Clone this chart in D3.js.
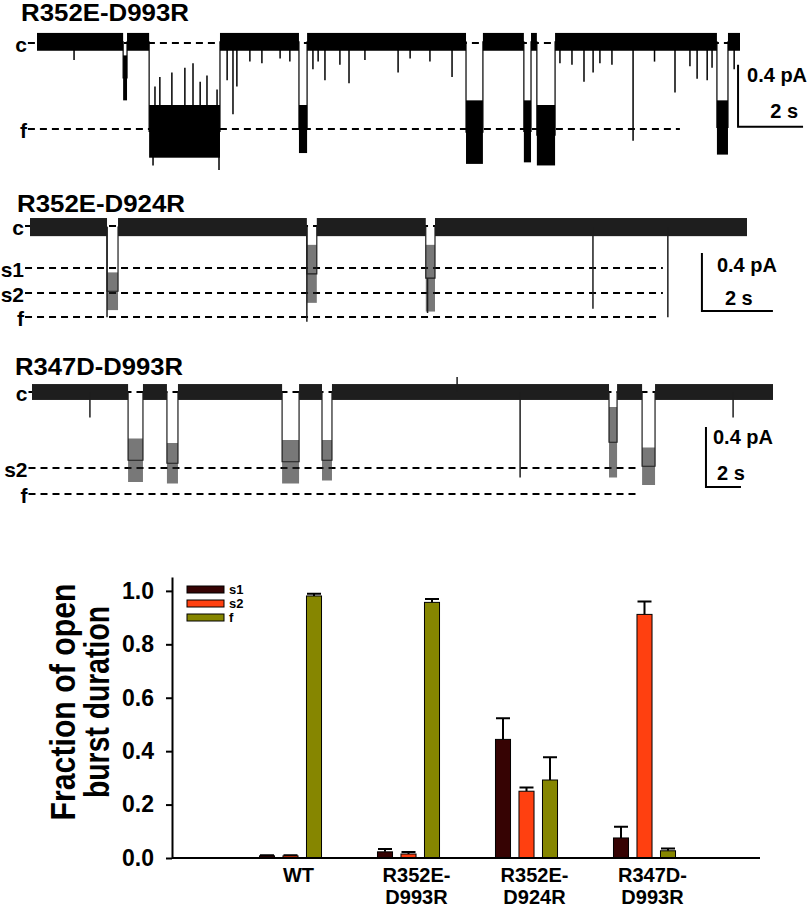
<!DOCTYPE html>
<html>
<head>
<meta charset="utf-8">
<script src="https://cdn.jsdelivr.net/npm/d3@7"></script>
<style>
body { margin: 0; background: #fff; }
text { font-family: Arial, "Liberation Sans", sans-serif; font-weight: bold; fill: #000; }
</style>
</head>
<body>
<div id="figure"></div>
<script>
// ---- single-channel records: dwells are [start s, end s, min pA, max pA]
var trace1Dwells = [
    [0, 2.65, -0.05, 0.065], [2.65, 2.77, -0.37, -0.08], [2.77, 3.45, -0.05, 0.065],
    [3.45, 5.63, -0.74, -0.40], [5.63, 8.06, -0.05, 0.065], [8.06, 8.31, -0.71, -0.40],
    [8.31, 13.2, -0.05, 0.065], [13.2, 13.72, -0.78, -0.37], [13.72, 14.98, -0.05, 0.065],
    [14.98, 15.2, -0.77, -0.37], [15.2, 15.38, -0.05, 0.065], [15.38, 15.94, -0.79, -0.40],
    [15.94, 20.92, -0.05, 0.065], [20.92, 21.26, -0.72, -0.37], [21.26, 21.63, -0.05, 0.065]
];
// brief excursions: [time s, peak pA]
var trace1Spikes = [
    [1.14, -0.11], [3.57, -0.79], [3.63, -0.28], [3.78, -0.22], [4.15, -0.19], [4.55, -0.16],
    [4.8, -0.13], [5.02, -0.25], [5.23, -0.21], [5.54, -0.30], [5.6, -0.82],
    [5.85, -0.24], [6.03, -0.46], [6.15, -0.28], [6.55, -0.12], [6.92, -0.13], [7.48, -0.1],
    [7.78, -0.12], [8.49, -0.17], [8.65, -0.12], [8.86, -0.24], [9.32, -0.14], [9.6, -0.26],
    [10.09, -0.11], [11.11, -0.19], [11.48, -0.1], [12.09, -0.12], [12.77, -0.22],
    [16.09, -0.13], [16.46, -0.14], [16.83, -0.25], [17.11, -0.19], [17.32, -0.13],
    [17.69, -0.14], [18.34, -0.63], [19.0, -0.12], [19.63, -0.32], [20.09, -0.15],
    [20.31, -0.23], [20.62, -0.24], [20.77, -0.16], [21.45, -0.17]
];
var trace1Levels = [["c", 0, 21.63], ["f", -0.555, 19.78]];

var trace2Dwells = [
    [0, 2.17, -0.07, 0.055], [2.17, 2.48, -0.58, -0.32], [2.48, 7.80, -0.07, 0.055],
    [7.80, 8.08, -0.53, -0.13], [8.08, 11.15, -0.07, 0.055], [11.15, 11.41, -0.59, -0.13],
    [11.41, 20.2, -0.07, 0.055]
];
var trace2Spikes = [[2.17, -0.63], [7.80, -0.66], [11.2, -0.6], [15.86, -0.57], [17.97, -0.63]];
var trace2Levels = [["c", 0, 20.2], ["s1", -0.29, 17.83], ["s2", -0.462, 17.83], ["f", -0.628, 17.75]];

var trace3Dwells = [
    [0, 5.49, -0.053, 0.053], [5.49, 6.34, -0.6, -0.31], [6.34, 7.71, -0.053, 0.053],
    [7.71, 8.34, -0.61, -0.34], [8.34, 14.29, -0.053, 0.053], [14.29, 15.26, -0.61, -0.32],
    [15.26, 16.57, -0.053, 0.053], [16.57, 17.14, -0.59, -0.32], [17.14, 32.97, -0.053, 0.053],
    [32.97, 33.43, -0.57, -0.1], [33.43, 34.86, -0.053, 0.053], [34.86, 35.6, -0.62, -0.37],
    [35.6, 42.34, -0.053, 0.053]
];
var trace3Spikes = [[3.31, -0.17], [24.29, 0.1], [27.89, -0.57], [40.06, -0.17]];
var trace3Levels = [["c", 0, 42.34], ["s2", -0.507, 34.63], ["f", -0.68, 34.57]];

// ---- bar chart values
var groups = ["WT", "R352E-D993R", "R352E-D924R", "R347D-D993R"];
var groupLabels = [["WT"], ["R352E-", "D993R"], ["R352E-", "D924R"], ["R347D-", "D993R"]];
var states = ["s1", "s2", "f"];
var stateColors = ["#360303", "#ff4010", "#868600"];
var s1Mean = [0.008, 0.023, 0.444, 0.075];
var s1Err = [0.002, 0.011, 0.079, 0.042];
var s2Mean = [0.008, 0.015, 0.250, 0.912];
var s2Err = [0.002, 0.007, 0.014, 0.048];
var fMean = [0.981, 0.957, 0.292, 0.027];
var fErr = [0.008, 0.013, 0.085, 0.009];
var yTicks = [0, 0.2, 0.4, 0.6, 0.8, 1.0];

var svg = d3.select("#figure")
    .append("svg")
    .attr("width", 812)
    .attr("height", 909);

var traces = [
    { title: "R352E-D993R", titleX: 21, titleY: 21, dwells: trace1Dwells, spikes: trace1Spikes,
      levels: trace1Levels, tEnd: 21.63, x0: 37, x1: 740, y0: 43, pxPerPa: 155, tStart: -0.28,
      color: "#000", openOpacity: 1, bar: [21.57, -0.54], pALabel: [9, -45], sLabel: [60, -9, "end"] },
    { title: "R352E-D924R", titleX: 17, titleY: 212, dwells: trace2Dwells, spikes: trace2Spikes,
      levels: trace2Levels, tEnd: 20.2, x0: 30, x1: 747, y0: 226, pxPerPa: 145, tStart: -0.14,
      color: "#1e1e1e", openOpacity: 0.6, bar: [18.93, -0.586], pALabel: [15, -39], sLabel: [23, -6, "start"] },
    { title: "R347D-D993R", titleX: 15, titleY: 375, dwells: trace3Dwells, spikes: trace3Spikes,
      levels: trace3Levels, tEnd: 42.34, x0: 32, x1: 773, y0: 392, pxPerPa: 150, tStart: -0.2,
      color: "#1e1e1e", openOpacity: 0.6, bar: [38.51, -0.633], pALabel: [7, -43], sLabel: [11, -7, "start"] }
];

traces.forEach(drawTrace);
drawBars();

function levelAt(dwells, t) {
    var d = dwells.find(function(d) { return t >= d[0] && t <= d[1]; }) || dwells[0];
    return (d[2] + d[3]) / 2;
}

function drawTrace(cfg) {
    var g = svg.append("g");
    var x = d3.scaleLinear().domain([0, cfg.tEnd]).range([cfg.x0, cfg.x1]);
    var y = d3.scaleLinear().domain([0, -1]).range([cfg.y0, cfg.y0 + cfg.pxPerPa]);

    g.append("text")
        .attr("x", cfg.titleX)
        .attr("y", cfg.titleY)
        .attr("font-size", 23)
        .attr("textLength", 168)
        .attr("lengthAdjust", "spacingAndGlyphs")
        .text(cfg.title);

    // dashed reference levels and their names
    g.selectAll(".level")
        .data(cfg.levels)
        .enter().append("line")
        .attr("x1", x(cfg.tStart))
        .attr("x2", function(d) { return x(d[2]); })
        .attr("y1", function(d) { return y(d[1]); })
        .attr("y2", function(d) { return y(d[1]); })
        .attr("stroke", "#000")
        .attr("stroke-width", 2)
        .attr("stroke-dasharray", "7,5");

    g.selectAll(".level-label")
        .data(cfg.levels)
        .enter().append("text")
        .attr("x", x(cfg.tStart) - 1)
        .attr("y", function(d) { return y(d[1]) + 9; })
        .attr("text-anchor", "end")
        .attr("font-size", 21)
        .text(function(d) { return d[0]; });

    // transitions between dwells
    var pts = [];
    cfg.dwells.forEach(function(d) {
        var m = (d[2] + d[3]) / 2;
        pts.push([d[0], m], [d[1], m]);
    });
    g.append("path")
        .attr("d", d3.line().x(function(p) { return x(p[0]); }).y(function(p) { return y(p[1]); })(pts))
        .attr("fill", "none")
        .attr("stroke", cfg.color)
        .attr("stroke-width", 1.2);

    // noise envelope of each dwell
    g.selectAll(".band")
        .data(cfg.dwells)
        .enter().append("rect")
        .attr("x", function(d) { return x(d[0]); })
        .attr("width", function(d) { return x(d[1]) - x(d[0]); })
        .attr("y", function(d) { return y(d[3]); })
        .attr("height", function(d) { return y(d[2]) - y(d[3]); })
        .attr("fill", cfg.color)
        .attr("opacity", function(d) { return d[3] > 0 ? 1 : cfg.openOpacity; });

    g.selectAll(".spike")
        .data(cfg.spikes)
        .enter().append("line")
        .attr("x1", function(d) { return x(d[0]); })
        .attr("x2", function(d) { return x(d[0]); })
        .attr("y1", function(d) { return y(levelAt(cfg.dwells, d[0])); })
        .attr("y2", function(d) { return y(d[1]); })
        .attr("stroke", cfg.color)
        .attr("stroke-width", 1.5);

    // scale bar: 0.4 pA by 2 s
    var bx = x(cfg.bar[0]), by = y(cfg.bar[1]);
    g.append("path")
        .attr("d", "M" + bx + "," + y(cfg.bar[1] + 0.4) + "L" + bx + "," + by + "L" + x(cfg.bar[0] + 2) + "," + by)
        .attr("fill", "none")
        .attr("stroke", "#000")
        .attr("stroke-width", 2);

    g.append("text")
        .attr("x", bx + cfg.pALabel[0])
        .attr("y", by + cfg.pALabel[1])
        .attr("font-size", 20)
        .text("0.4 pA");

    g.append("text")
        .attr("x", bx + cfg.sLabel[0])
        .attr("y", by + cfg.sLabel[1])
        .attr("text-anchor", cfg.sLabel[2])
        .attr("font-size", 20)
        .text("2 s");
}

function drawBars() {
    var yScale = d3.scaleLinear().domain([0, 1.052]).range([858, 577]);
    var xGroup = d3.scaleBand().domain(groups).range([231.5, 703.5]);
    var xState = d3.scaleBand().domain(states).range([23.75, 94.25])
        .paddingInner(0.36).paddingOuter(0.18);

    var means = [s1Mean, s2Mean, fMean];
    var errs = [s1Err, s2Err, fErr];
    var rows = [];
    groups.forEach(function(grp, gi) {
        states.forEach(function(st, si) {
            rows.push({ group: grp, state: st, color: stateColors[si],
                        mean: means[si][gi], err: errs[si][gi] });
        });
    });

    var g = svg.append("g");

    // error bars (upper only)
    g.selectAll(".err")
        .data(rows)
        .enter().append("path")
        .attr("d", function(d) {
            var cx = xGroup(d.group) + xState(d.state) + xState.bandwidth() / 2;
            var top = yScale(d.mean + d.err);
            return "M" + cx + "," + yScale(d.mean) + "V" + top +
                   "M" + (cx - 7) + "," + top + "H" + (cx + 7);
        })
        .attr("fill", "none")
        .attr("stroke", "#000")
        .attr("stroke-width", 2);

    g.selectAll(".bar")
        .data(rows)
        .enter().append("rect")
        .attr("x", function(d) { return xGroup(d.group) + xState(d.state); })
        .attr("width", xState.bandwidth())
        .attr("y", function(d) { return yScale(d.mean); })
        .attr("height", function(d) { return yScale(0) - yScale(d.mean); })
        .attr("fill", function(d) { return d.color; })
        .attr("stroke", "#000")
        .attr("stroke-width", 1);

    var yAxis = g.append("g")
        .attr("transform", "translate(172,0)")
        .call(d3.axisLeft(yScale)
            .tickValues(yTicks)
            .tickFormat(d3.format(".1f"))
            .tickSize(6)
            .tickSizeOuter(0)
            .tickPadding(12));
    yAxis.select(".domain").attr("stroke-width", 2);
    yAxis.selectAll(".tick line").attr("stroke-width", 2);
    yAxis.selectAll(".tick text")
        .attr("font-family", "Arial, 'Liberation Sans', sans-serif")
        .attr("font-weight", "bold")
        .attr("font-size", 23);

    g.append("line")
        .attr("x1", 172).attr("x2", 760)
        .attr("y1", yScale(0)).attr("y2", yScale(0))
        .attr("stroke", "#000")
        .attr("stroke-width", 2);

    // group names, two lines
    groups.forEach(function(grp, gi) {
        var t = g.append("text")
            .attr("x", xGroup(grp) + xGroup.bandwidth() / 2 + 8)
            .attr("y", 882)
            .attr("text-anchor", "middle")
            .attr("font-size", 20);
        groupLabels[gi].forEach(function(line, li) {
            t.append("tspan")
                .attr("x", xGroup(grp) + xGroup.bandwidth() / 2 + 8)
                .attr("dy", li === 0 ? 0 : 22)
                .text(line);
        });
    });

    // y title
    var title = g.append("g").attr("transform", "translate(75,702) rotate(-90)");
    title.append("text")
        .attr("text-anchor", "middle")
        .attr("font-size", 35)
        .attr("textLength", 237)
        .attr("lengthAdjust", "spacingAndGlyphs")
        .text("Fraction of open");
    title.append("text")
        .attr("y", 34)
        .attr("text-anchor", "middle")
        .attr("font-size", 35)
        .attr("textLength", 192)
        .attr("lengthAdjust", "spacingAndGlyphs")
        .text("burst duration");

    // legend
    var legend = g.selectAll(".legend")
        .data(states)
        .enter().append("g")
        .attr("transform", function(d, i) { return "translate(187," + (586 + i * 14) + ")"; });
    legend.append("rect")
        .attr("width", 37)
        .attr("height", 7)
        .attr("fill", function(d, i) { return stateColors[i]; })
        .attr("stroke", "#000")
        .attr("stroke-width", 1);
    legend.append("text")
        .attr("x", 42)
        .attr("y", 8)
        .attr("font-size", 13)
        .text(function(d) { return d; });
}
</script>
</body>
</html>
